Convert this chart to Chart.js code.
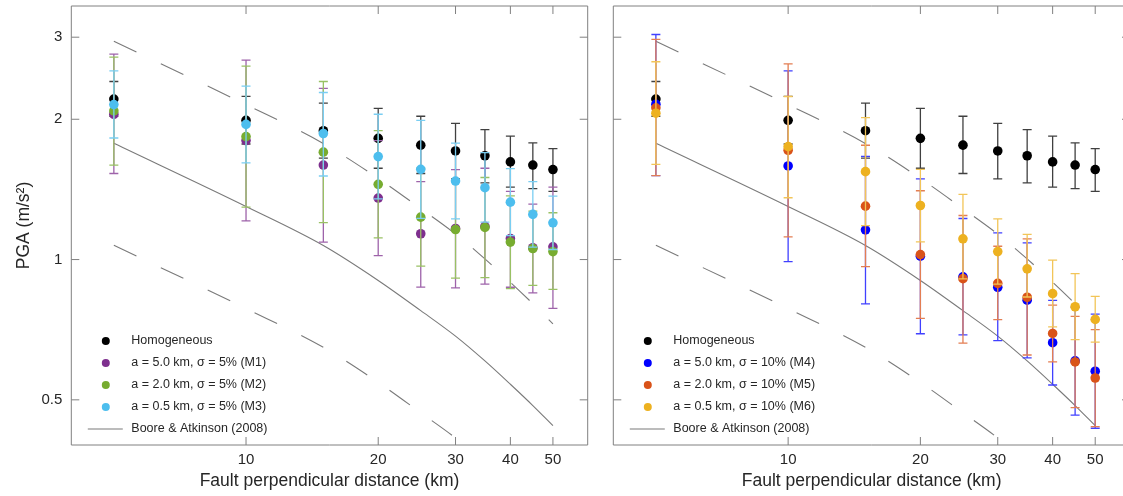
<!DOCTYPE html>
<html>
<head>
<meta charset="utf-8">
<script src="https://cdn.jsdelivr.net/npm/chart.js@4.4.1/dist/chart.umd.min.js"></script>
<style>
  html, body { margin: 0; padding: 0; background: #fff; overflow: hidden; }
  body { width: 1123px; height: 496px; position: relative; }
  canvas { position: absolute; top: 0; }
  #pga_m123 { left: 0; }
  #pga_m456 { left: 600px; }
</style>
</head>
<body>
<canvas id="pga_m123" width="600" height="496"></canvas>
<canvas id="pga_m456" width="540" height="496"></canvas>
<script>
// Distances (km) and axis ticks
const distances = [5, 10, 15, 20, 25, 30, 35, 40, 45, 50];
const xTicks = [10, 20, 30, 40, 50];
const yTicks = [0.5, 1, 2, 3];

// PGA (m/s^2): mean, upper and lower bound per distance
const homMean = [2.21, 1.99, 1.89, 1.82, 1.76, 1.71, 1.67, 1.62, 1.595, 1.56];
const homHigh = [2.41, 2.24, 2.165, 2.11, 2.03, 1.96, 1.90, 1.84, 1.78, 1.73];
const homLow  = [2.03, 1.77, 1.65, 1.57, 1.53, 1.49, 1.46, 1.43, 1.42, 1.40];

const m1Mean = [2.05, 1.80, 1.595, 1.355, 1.136, 1.166, 1.178, 1.11, 1.06, 1.065];
const m1High = [2.76, 2.68, 2.33, 1.80, 1.47, 1.56, 1.57, 1.40, 1.315, 1.43];
const m1Low  = [1.53, 1.21, 1.09, 1.02, 0.873, 0.869, 0.886, 0.872, 0.848, 0.786];

const m2Mean = [2.084, 1.836, 1.70, 1.45, 1.233, 1.16, 1.172, 1.09, 1.056, 1.04];
const m2High = [2.72, 2.60, 2.41, 1.89, 1.57, 1.475, 1.50, 1.37, 1.27, 1.26];
const m2Low  = [1.595, 1.296, 1.20, 1.113, 0.968, 0.912, 0.915, 0.866, 0.88, 0.863];

const m3Mean = [2.15, 1.95, 1.864, 1.663, 1.562, 1.474, 1.426, 1.328, 1.25, 1.199];
const m3High = [2.54, 2.356, 2.283, 2.05, 1.99, 1.777, 1.696, 1.567, 1.47, 1.368];
const m3Low  = [1.823, 1.612, 1.511, 1.35, 1.226, 1.223, 1.203, 1.125, 1.063, 1.051];

const m4Mean = [2.154, 1.588, 1.158, 1.017, 0.918, 0.872, 0.818, 0.663, 0.606, 0.576];
const m4High = [3.04, 2.54, 1.665, 1.49, 1.225, 1.141, 1.086, 0.817, 0.79, 0.764];
const m4Low  = [1.514, 0.99, 0.803, 0.693, 0.689, 0.67, 0.615, 0.538, 0.4635, 0.4345];

const m5Mean = [2.116, 1.716, 1.302, 1.025, 0.91, 0.889, 0.83, 0.694, 0.603, 0.557];
const m5High = [2.968, 2.63, 1.759, 1.405, 1.243, 1.068, 1.108, 0.798, 0.755, 0.707];
const m5Low  = [1.514, 1.119, 0.966, 0.748, 0.662, 0.743, 0.624, 0.603, 0.481, 0.438];

const m6Mean = [2.061, 1.747, 1.544, 1.306, 1.108, 1.04, 0.955, 0.845, 0.792, 0.744];
const m6High = [2.657, 2.238, 2.017, 1.562, 1.38, 1.223, 1.132, 0.997, 0.933, 0.834];
const m6Low  = [1.601, 1.357, 1.182, 1.091, 0.909, 0.886, 0.831, 0.717, 0.673, 0.665];

// Boore & Atkinson (2008) median and +/- one sigma
const baMedian = [1.776, 1.30, 1.072, 0.902, 0.777, 0.685, 0.606, 0.54, 0.486, 0.44];
const baUpper  = [2.94, 2.15, 1.774, 1.493, 1.286, 1.134, 1.003, 0.894, 0.804, 0.728];
const baLower  = [1.073, 0.785, 0.648, 0.545, 0.469, 0.414, 0.366, 0.326, 0.294, 0.266];

Chart.defaults.font.family = '"Liberation Sans", Arial, sans-serif';
Chart.defaults.color = '#262626';

const FONT = '"Liberation Sans", Arial, sans-serif';
const frameColor = '#808080';

// blend a hex colour towards white
function lighten(hex, f) {
  const n = parseInt(hex.slice(1), 16);
  const mix = c => Math.round(c + (255 - c) * f);
  return `rgb(${mix((n >> 16) & 255)}, ${mix((n >> 8) & 255)}, ${mix(n & 255)})`;
}

function pointSet(label, color, mean, high, low, order) {
  return {
    label,
    data: distances.map((d, i) => ({ x: d, y: mean[i] })),
    high, low,
    barColor: lighten(color, 0.25),
    backgroundColor: color,
    borderColor: color,
    pointRadius: 4.8,
    pointBorderWidth: 0,
    order,
    inLegend: true
  };
}

function lineSet(label, values, dash, inLegend) {
  return {
    label,
    data: distances.map((d, i) => ({ x: d, y: values[i] })),
    showLine: true,
    borderColor: '#7a7a7a',
    borderWidth: 1.1,
    borderDash: dash,
    cubicInterpolationMode: 'monotone',
    pointRadius: 0,
    order: 10,
    inLegend
  };
}

function baSets() {
  return [
    lineSet('Boore & Atkinson (2008)', baMedian, [], true),
    lineSet('upper', baUpper, [25, 27], false),
    lineSet('lower', baLower, [25, 27], false)
  ];
}

// error bars go under each series' own markers
const errorBars = {
  id: 'errorBars',
  beforeDatasetDraw(chart, args) {
    const ds = chart.data.datasets[args.index];
    if (!ds.high) return;
    const { ctx, scales: { x, y } } = chart;
    ctx.save();
    ctx.strokeStyle = ds.barColor;
    ctx.lineWidth = 1.3;
    ctx.beginPath();
    ds.data.forEach((p, i) => {
      const px = x.getPixelForValue(p.x);
      const top = y.getPixelForValue(ds.high[i]);
      const bot = y.getPixelForValue(ds.low[i]);
      ctx.moveTo(px, top); ctx.lineTo(px, bot);
      ctx.moveTo(px - 4.5, top); ctx.lineTo(px + 4.5, top);
      ctx.moveTo(px - 4.5, bot); ctx.lineTo(px + 4.5, bot);
    });
    ctx.stroke();
    ctx.restore();
  }
};

// box with inward ticks on all four sides
const frame = {
  id: 'frame',
  afterDraw(chart) {
    const { ctx, chartArea: a, scales: { x, y } } = chart;
    ctx.save();
    ctx.strokeStyle = frameColor;
    ctx.lineWidth = 1;
    ctx.beginPath();
    ctx.rect(a.left, a.top, a.right - a.left, a.bottom - a.top);
    xTicks.forEach(v => {
      const px = x.getPixelForValue(v);
      ctx.moveTo(px, a.bottom); ctx.lineTo(px, a.bottom - 8);
      ctx.moveTo(px, a.top); ctx.lineTo(px, a.top + 8);
    });
    yTicks.forEach(v => {
      const py = y.getPixelForValue(v);
      ctx.moveTo(a.left, py); ctx.lineTo(a.left + 8, py);
      ctx.moveTo(a.right, py); ctx.lineTo(a.right - 8, py);
    });
    ctx.stroke();
    ctx.restore();
  }
};

// legend in the lower left corner of the plot
const insetLegend = {
  id: 'insetLegend',
  afterDraw(chart) {
    const { ctx, chartArea: a } = chart;
    const items = chart.data.datasets.filter(d => d.inLegend);
    ctx.save();
    ctx.font = '12.5px ' + FONT;
    ctx.textBaseline = 'middle';
    items.forEach((d, i) => {
      const cy = a.bottom - 104 + i * 22;
      if (d.showLine) {
        ctx.strokeStyle = d.borderColor;
        ctx.lineWidth = 1.1;
        ctx.beginPath();
        ctx.moveTo(a.left + 16.5, cy);
        ctx.lineTo(a.left + 51.5, cy);
        ctx.stroke();
      } else {
        ctx.fillStyle = d.backgroundColor;
        ctx.beginPath();
        ctx.arc(a.left + 34.5, cy, 4, 0, Math.PI * 2);
        ctx.fill();
      }
      ctx.fillStyle = '#262626';
      ctx.fillText(d.label, a.left + 60, cy);
    });
    ctx.restore();
  }
};

function makeChart(id, datasets, showY, yWidth, padRight) {
  return new Chart(document.getElementById(id), {
    type: 'scatter',
    data: { datasets },
    options: {
      responsive: false,
      animation: false,
      events: [],
      layout: { padding: { top: 6, right: padRight, bottom: 0, left: 0 } },
      plugins: { legend: { display: false }, tooltip: { enabled: false } },
      scales: {
        x: {
          type: 'logarithmic',
          min: 4,
          max: 60,
          afterBuildTicks: s => { s.ticks = xTicks.map(v => ({ value: v })); },
          afterFit: s => { s.height = 51; s.paddingLeft = 0; s.paddingRight = 0; },
          grid: { display: false, drawTicks: false },
          border: { display: false },
          ticks: { callback: v => String(v), font: { size: 15 }, padding: 6, maxRotation: 0, autoSkip: false },
          title: {
            display: true,
            text: 'Fault perpendicular distance (km)',
            font: { size: 17.5 },
            padding: { top: 0, bottom: 4 }
          }
        },
        y: {
          type: 'logarithmic',
          min: 0.4,
          max: 3.5,
          afterBuildTicks: s => { s.ticks = yTicks.map(v => ({ value: v })); },
          afterFit: s => { s.width = yWidth; s.paddingTop = 0; s.paddingBottom = 0; },
          grid: { display: false, drawTicks: false },
          border: { display: false },
          ticks: { display: showY, callback: v => String(v), font: { size: 15 }, padding: 9 },
          title: {
            display: showY,
            text: 'PGA (m/s²)',
            font: { size: 17.5 },
            padding: { top: 14, bottom: 0 }
          }
        }
      }
    },
    plugins: [errorBars, frame, insetLegend]
  });
}

makeChart('pga_m123', [
  pointSet('Homogeneous', '#000000', homMean, homHigh, homLow, 4),
  pointSet('a = 5.0 km, σ = 5% (M1)', '#7E2F8E', m1Mean, m1High, m1Low, 3),
  pointSet('a = 2.0 km, σ = 5% (M2)', '#77AC30', m2Mean, m2High, m2Low, 2),
  pointSet('a = 0.5 km, σ = 5% (M3)', '#4DBEEE', m3Mean, m3High, m3Low, 1),
  ...baSets()
], true, 71.3, 12.3);

makeChart('pga_m456', [
  pointSet('Homogeneous', '#000000', homMean, homHigh, homLow, 4),
  pointSet('a = 5.0 km, σ = 10% (M4)', '#0000FF', m4Mean, m4High, m4Low, 3),
  pointSet('a = 2.0 km, σ = 10% (M5)', '#D95319', m5Mean, m5High, m5Low, 2),
  pointSet('a = 0.5 km, σ = 10% (M6)', '#EDB120', m6Mean, m6High, m6Low, 1),
  ...baSets()
], false, 13.3, 10);
</script>
</body>
</html>
